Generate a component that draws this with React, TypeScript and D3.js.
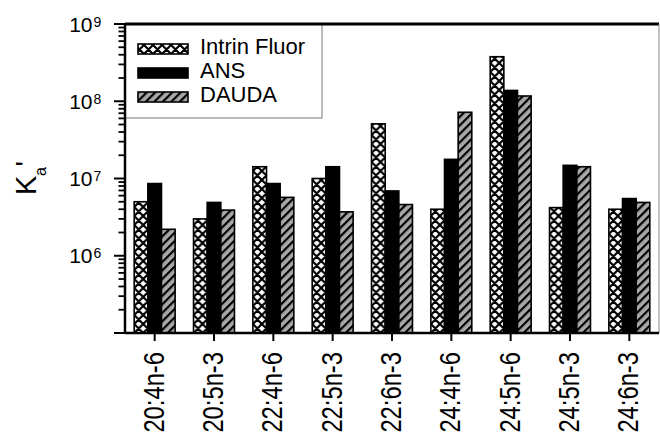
import React from "react";
import * as d3 from "d3";

const categories = ["20:4n-6", "20:5n-3", "22:4n-6", "22:5n-3", "22:6n-3", "24:4n-6", "24:5n-6", "24:5n-3", "24:6n-3"];
const seriesNames = ["Intrin Fluor", "ANS", "DAUDA"];
const intrinFluor = [5.0e6, 3.0e6, 1.42e7, 1.0e7, 5.1e7, 4.0e6, 3.77e8, 4.2e6, 4.0e6];
const ans = [8.6e6, 4.9e6, 8.6e6, 1.42e7, 6.9e6, 1.77e7, 1.38e8, 1.48e7, 5.5e6];
const dauda = [2.2e6, 3.9e6, 5.7e6, 3.7e6, 4.6e6, 7.2e7, 1.17e8, 1.42e7, 4.9e6];
const majorExponents = [6, 7, 8, 9];

const W = 660, H = 437;
const left = 125, right = 659, top = 24, bottom = 333;
const FONT = "'Liberation Sans', Arial, Helvetica, sans-serif";

export default function App() {
  const y = d3.scaleLog().domain([1e5, 1e9]).range([bottom, top]);
  const x = d3.scaleBand<string>().domain(categories).range([left, right]).paddingInner(0.31).paddingOuter(0.155);
  const xs = d3.scaleBand<string>().domain(seriesNames).range([0, x.bandwidth()]).padding(0);
  const values = [intrinFluor, ans, dauda];
  const fills = ["url(#xhatch)", "#000", "url(#stripes)"];

  const minorTicks: number[] = [];
  for (let e = 5; e < 9; e++) for (let m = 2; m <= 9; m++) minorTicks.push(m * Math.pow(10, e));
  const majorTicks = [1e5, 1e6, 1e7, 1e8, 1e9];

  return (
    <svg width={W} height={H} style={{ position: "absolute", left: 0, top: 0, background: "#fff" }} fontFamily={FONT}>
      <defs>
        <pattern id="xhatch" patternUnits="userSpaceOnUse" width={9} height={9}>
          <rect width={9} height={9} fill="#fff" />
          <path d="M0,0 L9,9 M9,0 L0,9 M-1,8 L1,10 M8,-1 L10,1 M-1,1 L1,-1 M8,10 L10,8" stroke="#000" strokeWidth={2.2} />
        </pattern>
        <pattern id="stripes" patternUnits="userSpaceOnUse" width={6} height={6} patternTransform="rotate(45)">
          <rect width={6} height={6} fill="#a8a8a8" />
          <rect width={2.2} height={6} fill="#000" />
        </pattern>
      </defs>
      <rect width={W} height={H} fill="#fff" />

      {/* bars */}
      {categories.map((c, i) => (
        <g key={c} transform={`translate(${x(c)},0)`}>
          {seriesNames.map((s, j) => (
            <rect key={s} x={xs(s)} y={y(values[j][i])} width={xs.bandwidth()} height={bottom - y(values[j][i])}
              fill={fills[j]} stroke="#000" strokeWidth={1.6} />
          ))}
        </g>
      ))}

      {/* legend */}
      <rect x={left} y={top} width={197} height={94} fill="#fff" stroke="#777" strokeWidth={1} />
      {seriesNames.map((s, j) => (
        <g key={s}>
          <rect x={138} y={44 + j * 24} width={50} height={10} fill={fills[j]} stroke="#000" strokeWidth={1.6} />
          <text x={200} y={53.5 + j * 24} fontSize={22} fill="#000">{s}</text>
        </g>
      ))}

      {/* frame */}
      <line x1={left} x2={right} y1={top} y2={top} stroke="#000" strokeWidth={3} />
      <line x1={right} x2={right} y1={top} y2={bottom} stroke="#888" strokeWidth={1} />
      <line x1={left} x2={right} y1={bottom} y2={bottom} stroke="#000" strokeWidth={2.5} />
      <line x1={left} x2={left} y1={top} y2={bottom} stroke="#000" strokeWidth={2.5} />

      {/* y ticks */}
      {majorTicks.map((t) => (
        <line key={"M" + t} x1={left - 11} x2={left} y1={y(t)} y2={y(t)} stroke="#000" strokeWidth={2} />
      ))}
      {minorTicks.map((t) => (
        <line key={"m" + t} x1={left - 6.5} x2={left} y1={y(t)} y2={y(t)} stroke="#000" strokeWidth={1.8} />
      ))}
      {majorExponents.map((e) => {
        const ty = y(Math.pow(10, e));
        return (
          <g key={e}>
            <text x={92.5} y={ty + 7.5} fontSize={21} textAnchor="end" fill="#000">10</text>
            <text x={93.5} y={ty + 2.5} fontSize={14} fill="#000">{e}</text>
          </g>
        );
      })}

      {/* x ticks and labels */}
      {categories.map((c) => {
        const cx = (x(c) as number) + x.bandwidth() / 2;
        return (
          <g key={c}>
            <line x1={cx} x2={cx} y1={bottom} y2={bottom + 8} stroke="#000" strokeWidth={2} />
            <g transform={`translate(${cx},352) rotate(-90) scale(0.82,1)`}>
              <text x={0} y={9} fontSize={29} textAnchor="end" fill="#000">{c}</text>
            </g>
          </g>
        );
      })}

      {/* y axis title K_a' */}
      <g transform="translate(36,195) rotate(-90)">
        <text x={0} y={0} fontSize={29} fill="#000">K</text>
        <text x={19} y={10} fontSize={16} fill="#000">a</text>
        <text x={28.5} y={0} fontSize={29} fill="#000">'</text>
      </g>
    </svg>
  );
}
